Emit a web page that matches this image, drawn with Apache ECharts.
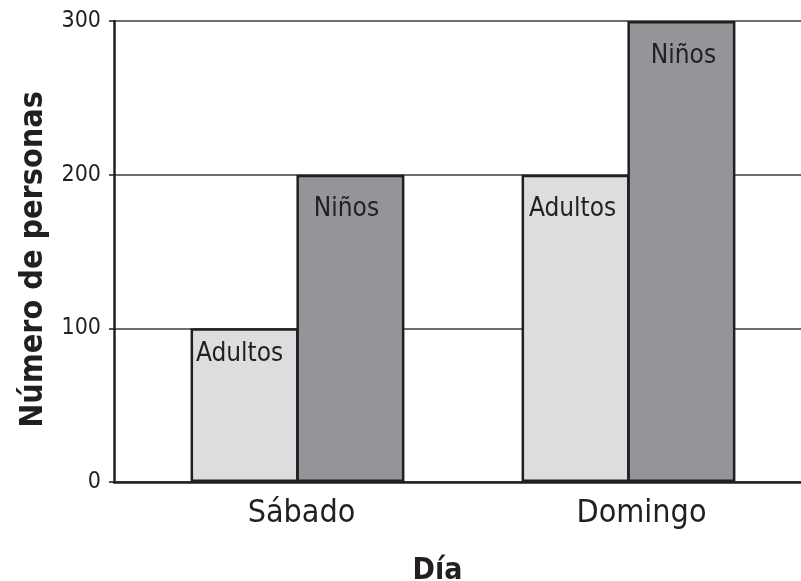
<!DOCTYPE html>
<html>
<head>
<meta charset="utf-8">
<script src="https://cdn.jsdelivr.net/npm/echarts@6/dist/echarts.min.js"></script>
<style>
  html, body { margin: 0; padding: 0; background: #ffffff; }
  #chart { width: 801px; height: 581px; }
</style>
</head>
<body>
<div id="chart"></div>
<script>
// Chart data
const days = ['Sábado', 'Domingo'];
const adultos = [100, 200];
const ninos = [200, 300];
const seriesNames = ['Adultos', 'Niños'];
const yTicks = [0, 100, 200, 300];

const INK = '#231f20';
const FONT = '"DejaVu Sans Condensed", "DejaVu Sans", sans-serif';

// Small per-bar label nudges [dx, distance from bar top]
const adultLabelPos = [[-5, 13], [-3, 22]];
const ninoLabelPos = [[-4, 22], [2, 22]];

function barData(values, pos) {
  return values.map((v, i) => ({
    value: v,
    label: { offset: [pos[i][0], 0], distance: pos[i][1] }
  }));
}

const chart = echarts.init(document.getElementById('chart'), null, { renderer: 'canvas' });

const plotTop = 21;
const plotBottom = 99;

chart.setOption({
  animation: false,
  backgroundColor: '#ffffff',
  grid: [
    // frame grid: value axis, gridlines and baseline
    { left: 114, right: 0, top: plotTop, bottom: plotBottom, outerBoundsMode: 'none', containLabel: false },
    // bar grid
    { left: 132, width: 662, top: plotTop, bottom: plotBottom, outerBoundsMode: 'none', containLabel: false },
    // category label grid
    { left: 131.5, width: 680, top: plotTop, bottom: plotBottom, outerBoundsMode: 'none', containLabel: false }
  ],
  xAxis: [
    {
      gridIndex: 0,
      type: 'value',
      min: 0,
      max: 1,
      axisLine: { show: true, onZero: false, lineStyle: { color: INK, width: 2.5 } },
      axisTick: { show: false },
      axisLabel: { show: false },
      splitLine: { show: false },
      name: 'Día',
      nameLocation: 'middle',
      nameGap: 74,
      nameTextStyle: {
        fontFamily: FONT, fontWeight: 'bold', fontSize: 30, color: INK,
        padding: [0, 40, 0, 0]
      }
    },
    {
      gridIndex: 1,
      type: 'category',
      data: days,
      axisLine: { show: false },
      axisTick: { show: false },
      axisLabel: { show: false }
    },
    {
      gridIndex: 2,
      type: 'category',
      data: days,
      axisLine: { show: false },
      axisTick: { show: false },
      axisLabel: { fontFamily: FONT, fontSize: 32, color: INK, margin: 16 }
    }
  ],
  yAxis: [
    {
      gridIndex: 0,
      type: 'value',
      min: yTicks[0],
      max: yTicks[yTicks.length - 1],
      interval: yTicks[1] - yTicks[0],
      axisLine: { show: true, lineStyle: { color: INK, width: 2.5 } },
      axisTick: { show: true, length: 5, lineStyle: { color: INK, width: 1.5 } },
      axisLabel: { fontFamily: FONT, fontSize: 23, color: INK, margin: 13 },
      splitLine: { show: true, lineStyle: { color: '#3d3d3d', width: 1.5 } },
      name: 'Número de personas',
      nameLocation: 'middle',
      nameGap: 64,
      nameTextStyle: {
        fontFamily: FONT, fontWeight: 'bold', fontSize: 32, color: INK,
        padding: [0, 16, 0, 0]
      }
    },
    {
      gridIndex: 1,
      type: 'value',
      min: yTicks[0],
      max: yTicks[yTicks.length - 1],
      show: false,
      splitLine: { show: false }
    },
    {
      gridIndex: 2,
      type: 'value',
      min: yTicks[0],
      max: yTicks[yTicks.length - 1],
      show: false,
      splitLine: { show: false }
    }
  ],
  series: [
    {
      name: seriesNames[0],
      type: 'bar',
      xAxisIndex: 1,
      yAxisIndex: 1,
      barWidth: 108,
      barGap: '-2%',
      data: barData(adultos, adultLabelPos),
      itemStyle: { color: '#dcdddf', borderColor: INK, borderWidth: 2.5 },
      label: {
        show: true,
        position: 'insideTop',
        formatter: seriesNames[0],
        fontFamily: FONT, fontSize: 26, color: INK
      }
    },
    {
      name: seriesNames[1],
      type: 'bar',
      xAxisIndex: 1,
      yAxisIndex: 1,
      barWidth: 108,
      barGap: '-2%',
      data: barData(ninos, ninoLabelPos),
      itemStyle: { color: '#939598', borderColor: INK, borderWidth: 2.5 },
      label: {
        show: true,
        position: 'insideTop',
        formatter: seriesNames[1],
        fontFamily: FONT, fontSize: 26, color: INK
      }
    }
  ]
});
</script>
</body>
</html>
